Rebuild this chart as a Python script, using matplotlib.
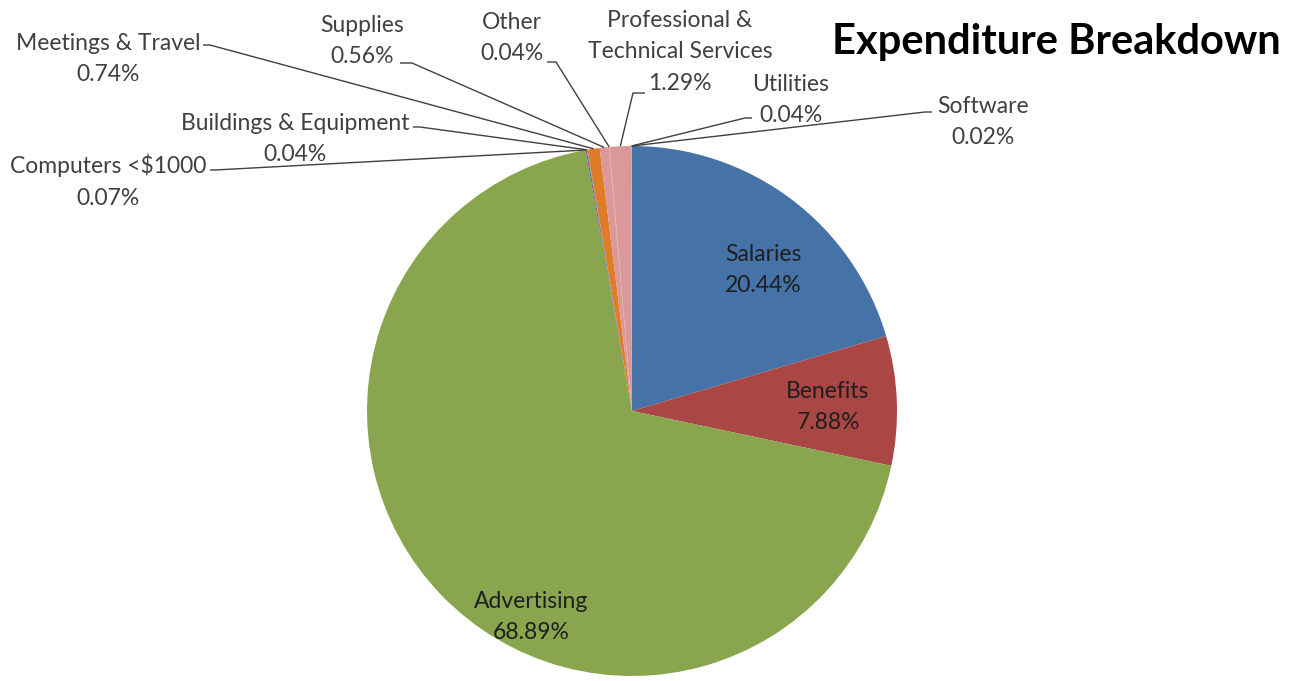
import numpy as np
import matplotlib
matplotlib.use("Agg")
from matplotlib import pyplot as plt

# data
categories = ["Salaries", "Benefits", "Advertising", "Computers <$1000",
              "Buildings & Equipment", "Meetings & Travel", "Supplies", "Other",
              "Professional &\nTechnical Services", "Utilities", "Software"]
shares = [20.44, 7.88, 68.89, 0.07, 0.04, 0.74, 0.56, 0.04, 1.29, 0.04, 0.02]
colors = ["#4572A7", "#AA4643", "#89A54E", "#71588F", "#4198AF", "#E07B2A",
          "#DA9898", "#DA9898", "#DA9898", "#A99BC8", "#A99BC8"]

W, H = 1297, 681
fig = plt.figure(figsize=(W / 100, H / 100), dpi=100)
ax = fig.add_axes([0, 0, 1, 1])

cx, cy, R = 632, H - 411, 265
ax.pie(shares, colors=colors, startangle=90, counterclock=False,
       center=(cx, cy), radius=R, frame=True,
       wedgeprops=dict(linewidth=0))
ax.set_xlim(0, W)
ax.set_ylim(0, H)
ax.set_aspect('equal')
ax.axis('off')

font = ['Lato', 'DejaVu Sans']
lab_col = '#404040'
fs = 16.5
ls = 1.62

def lbl(i):
    return f"{categories[i]}\n{shares[i]:.2f}%"

# inside labels (pixel positions of text centres, image coords)
inside = {0: (763, 270), 1: (828, 407), 2: (531, 617)}
for i, (x, y) in inside.items():
    ax.text(x, H - y, lbl(i), ha='center', va='center', fontsize=fs,
            family=font, color='#1f1f1f', linespacing=ls)

# outside labels: text centre, line start (stub), stub end
outside = {
    3: ((108, 181), (210, 170), (215, 170)),
    4: ((295, 139), (413, 127), (420, 127)),
    5: ((108, 59), (203, 45), (210, 45)),
    6: ((362, 41), (400, 63), (412, 63)),
    7: ((512, 38), (547, 62), (556, 62)),
    8: ((680, 52), (645, 93), (633, 93)),
    9: ((791, 100), (752, 118), (745, 118)),
    10: ((983, 122), (932, 112), (925, 112)),
}

cum = np.cumsum([0] + shares[:-1])
total = sum(shares)
for i, ((tx, ty), (sx, sy), (ex, ey)) in outside.items():
    mid = (cum[i] + shares[i] / 2) / total
    ang = np.deg2rad(90 - mid * 360)
    px, py = cx + R * np.cos(ang), cy + R * np.sin(ang)
    ax.text(tx, H - ty, lbl(i), ha='center', va='center', fontsize=fs,
            family=font, color=lab_col, linespacing=ls)
    ax.plot([sx, ex, px], [H - sy, H - ey, py], color='#404040', lw=1.0,
            solid_capstyle='butt')

ax.text(1056, H - 42, "Expenditure Breakdown", ha='center', va='center',
        fontsize=30, fontweight='bold', family=font, color='black')

fig.savefig("out.png", dpi=100, facecolor='white')
